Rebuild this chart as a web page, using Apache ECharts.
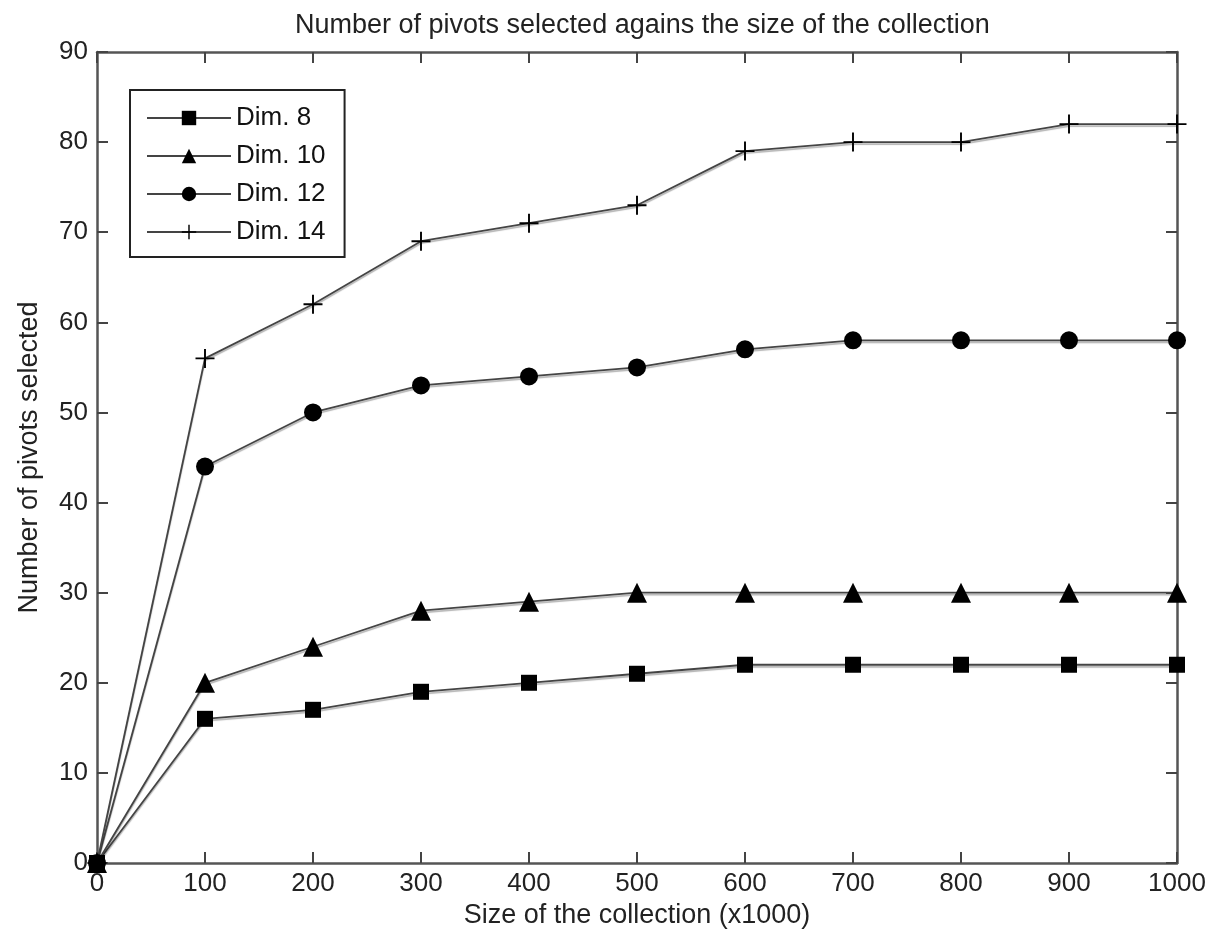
<!DOCTYPE html>
<html>
<head>
<meta charset="utf-8">
<script src="https://cdn.jsdelivr.net/npm/echarts@6/dist/echarts.min.js"></script>
<style>
  html, body { margin: 0; padding: 0; background: #fff; }
  #main { width: 1212px; height: 937px; }
</style>
</head>
<body>
<div id="main"></div>
<script>
// collection size (x1000)
const sizes = [0, 100, 200, 300, 400, 500, 600, 700, 800, 900, 1000]
const dim8 = [0, 16, 17, 19, 20, 21, 22, 22, 22, 22, 22]
const dim10 = [0, 20, 24, 28, 29, 30, 30, 30, 30, 30, 30]
const dim12 = [0, 44, 50, 53, 54, 55, 57, 58, 58, 58, 58]
const dim14 = [0, 56, 62, 69, 71, 73, 79, 80, 80, 82, 82]

const font = 'Liberation Sans, Arial, sans-serif'
const plus = 'path://M9,0 L11,0 L11,9 L20,9 L20,11 L11,11 L11,20 L9,20 L9,11 L0,11 L0,9 L9,9 Z'

function pairs (ys) {
  return sizes.map((x, i) => [x, ys[i]])
}

function series (name, ys, symbol, size) {
  return {
    name: name,
    type: 'line',
    data: pairs(ys),
    symbol: symbol,
    symbolSize: size,
    showAllSymbol: true,
    lineStyle: { color: '#444', width: 1.8, shadowColor: 'rgba(0,0,0,0.3)', shadowOffsetY: 2, shadowBlur: 1 },
    itemStyle: { color: '#000', borderWidth: 0 },
    emphasis: { disabled: true },
    animation: false,
  }
}

const axisBase = {
  type: 'value',
  axisLine: { show: true, onZero: false, lineStyle: { color: '#555', width: 2.5 } },
  axisTick: { show: true, inside: true, length: 11, lineStyle: { color: '#444', width: 2 } },
  splitLine: { show: false },
}

let chart = echarts.init(document.getElementById('main'))
chart.setOption({
  backgroundColor: '#fff',
  title: {
    text: 'Number of pivots selected agains the size of the collection',
    left: 290,
    top: 7,
    textStyle: { fontFamily: font, fontSize: 27, fontWeight: 'normal', color: '#222' },
  },
  legend: {
    orient: 'vertical',
    left: 130,
    top: 90,
    padding: [15, 19, 12, 16],
    itemWidth: 84,
    itemHeight: 18,
    itemGap: 12,
    borderColor: '#222',
    borderWidth: 2,
    borderRadius: 0,
    textStyle: { fontFamily: font, fontSize: 26, color: '#111' },
    data: ['Dim. 8', 'Dim. 10', 'Dim. 12', 'Dim. 14'],
  },
  grid: { left: 97, right: 35, top: 52, bottom: 74 },
  xAxis: [
    Object.assign({}, axisBase, {
      min: 0, max: 1000, interval: 100,
      position: 'bottom',
      name: 'Size of the collection (x1000)',
      nameLocation: 'middle',
      nameGap: 35,
      nameTextStyle: { fontFamily: font, fontSize: 27, color: '#222' },
      axisLabel: { fontFamily: font, fontSize: 26, color: '#222', margin: 8, formatter: v => String(v) },
    }),
    Object.assign({}, axisBase, {
      min: 0, max: 1000, interval: 100,
      position: 'top',
      axisLabel: { show: false },
    }),
  ],
  yAxis: [
    Object.assign({}, axisBase, {
      min: 0, max: 90, interval: 10,
      position: 'left',
      name: 'Number of pivots selected',
      nameLocation: 'middle',
      nameGap: 54,
      nameTextStyle: { fontFamily: font, fontSize: 27, color: '#222' },
      axisLabel: { fontFamily: font, fontSize: 26, color: '#222', margin: 9 },
    }),
    Object.assign({}, axisBase, {
      min: 0, max: 90, interval: 10,
      position: 'right',
      axisLabel: { show: false },
    }),
  ],
  series: [
    series('Dim. 8', dim8, 'rect', 16),
    series('Dim. 10', dim10, 'triangle', 20),
    series('Dim. 12', dim12, 'circle', 18),
    series('Dim. 14', dim14, plus, 19),
  ],
})
</script>
</body>
</html>
